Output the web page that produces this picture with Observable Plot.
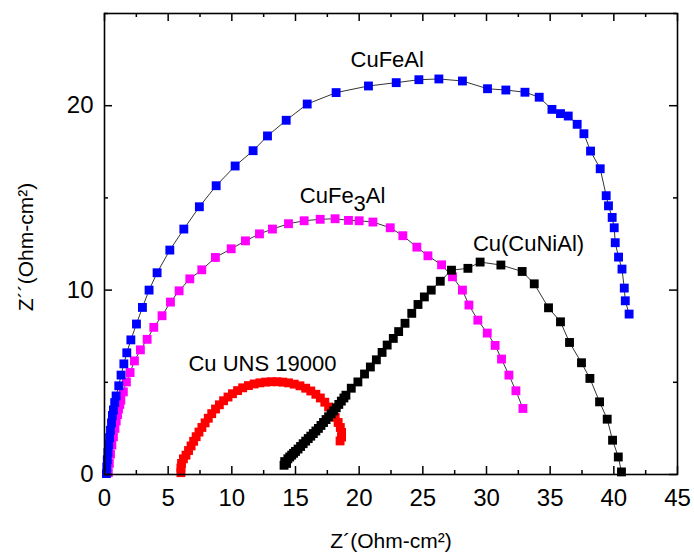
<!DOCTYPE html>
<html><head><meta charset="utf-8">
<script src="https://cdn.jsdelivr.net/npm/d3@7"></script>
<script src="https://cdn.jsdelivr.net/npm/@observablehq/plot@0.6"></script>
<style>html,body{margin:0;padding:0;background:#fff}svg{display:block}</style>
</head><body><div id="chart"></div>
<script>
// ---- data ----
const seriesNames = ["Cu UNS 19000", "CuFe3Al", "CuFeAl", "Cu(CuNiAl)"];
const seriesColors = ["#ff0000", "#ff00ff", "#0000ff", "#000000"];

const cuFeAlX = [0.15,0.18,0.22,0.27,0.33,0.4,0.47,0.55,0.62,0.7,0.8,0.91,1.12,1.30,1.52,1.75,2.07,2.51,2.98,3.50,4.13,5.13,6.23,7.45,8.77,10.26,11.67,12.80,14.27,15.92,18.19,20.73,22.91,24.69,26.26,28.11,30.08,31.52,33.02,34.14,35.14,35.81,36.42,37.12,37.65,38.17,38.93,39.40,39.58,39.87,40.03,40.11,40.37,40.64,40.82,40.90,41.2];
const cuFeAlY = [0.05,0.4,0.8,1.2,1.6,2.0,2.4,2.8,3.2,3.5,3.9,4.26,4.81,5.39,6.00,6.60,7.30,8.16,9.06,10.00,10.94,12.17,13.31,14.52,15.66,16.73,17.56,18.36,19.21,20.09,20.71,21.07,21.25,21.41,21.45,21.34,20.92,20.85,20.73,20.46,19.80,19.57,19.44,18.99,18.48,17.54,16.58,15.12,14.57,13.94,13.38,12.57,11.79,11.14,10.11,9.42,8.70];

const cuFe3AlX = [0.3,0.38,0.47,0.58,0.7,0.82,0.92,1.02,1.1,1.2,1.28,1.48,1.72,2.01,2.35,2.82,3.35,3.87,4.52,5.18,5.86,6.70,7.64,8.71,9.95,11.07,12.17,13.19,14.45,15.68,16.94,18.11,19.16,20.00,21.08,22.44,23.43,24.53,25.40,26.47,27.33,28.11,28.62,29.32,30.06,30.68,31.18,31.76,32.31,32.86];
const cuFe3AlY = [0.1,0.6,1.1,1.6,2.05,2.5,2.9,3.25,3.55,3.8,4.03,4.48,5.02,5.53,6.16,6.76,7.33,7.98,8.61,9.35,9.96,10.61,11.10,11.77,12.24,12.67,13.05,13.31,13.60,13.76,13.84,13.87,13.78,13.76,13.69,13.38,12.95,12.33,11.86,11.37,10.72,10.00,9.19,8.37,7.67,7.00,6.26,5.39,4.54,3.58];

const cuNiAlX = [14.1,14.15,14.3,14.4,14.55,14.7,14.85,15.0,15.2,15.4,15.6,15.8,16.0,16.2,16.4,16.6,16.8,17.0,17.2,17.4,17.6,17.8,18.0,18.2,18.4,18.6,18.8,18.96,19.38,19.9,20.42,20.88,21.35,21.8,22.2,22.68,23.1,23.6,24.13,24.62,25.12,25.66,26.37,27.25,28.54,29.50,31.13,32.80,33.75,34.87,35.81,36.52,37.46,38.12,38.88,39.48,39.90,40.35,40.6];
const cuNiAlY = [0.5,0.7,0.6,0.85,0.95,1.05,1.15,1.25,1.38,1.52,1.67,1.81,1.95,2.08,2.22,2.36,2.5,2.66,2.82,2.98,3.13,3.29,3.45,3.62,3.8,3.98,4.15,4.3,4.68,5.02,5.45,5.83,6.22,6.62,7.02,7.38,7.75,8.2,8.74,9.22,9.63,10.0,10.48,11.08,11.18,11.52,11.36,11.01,10.34,9.04,8.28,7.16,6.06,5.21,3.94,3.0,1.86,0.95,0.14];

const cuUnsX = [6.0,6.0,6.05,6.2,6.4,6.6,6.8,7.0,7.2,7.42,7.65,7.9,8.15,8.42,8.72,9.02,9.35,9.7,10.05,10.45,10.85,11.3,11.75,12.2,12.65,13.1,13.55,14.0,14.45,14.9,15.35,15.8,16.2,16.6,16.95,17.3,17.6,17.88,18.12,18.35,18.52,18.62,18.62,18.5];
const cuUnsY = [0.1,0.35,0.6,0.85,1.05,1.3,1.55,1.8,2.05,2.3,2.55,2.8,3.05,3.3,3.55,3.78,4.0,4.2,4.38,4.55,4.7,4.82,4.91,4.97,5.01,5.03,5.03,5.01,4.97,4.9,4.81,4.68,4.53,4.35,4.15,3.92,3.66,3.38,3.1,2.82,2.55,2.28,2.03,1.82];

const xMajorTicks = [0,5,10,15,20,25,30,35,40,45];
const xMinorTicks = [2.5,7.5,12.5,17.5,22.5,27.5,32.5,37.5,42.5];
const yMajorTicks = [0,10,20];
const yMinorTicks = [5,15,25];

const annotationText = ["CuFeAl", "CuFe3Al", "Cu(CuNiAl)", "Cu UNS 19000"];
const annotationX = [22.2, 18.7, 33.3, 12.4];
const annotationY = [22.5, 15.1, 12.5, 6.0];

const xTitle = "Z\u00b4(Ohm-cm\u00b2)";
const yTitle = "Z\u00b4\u00b4(Ohm-cm\u00b2)";

// ---- build rows ----
const seriesXs = [cuUnsX, cuFe3AlX, cuFeAlX, cuNiAlX];
const seriesYs = [cuUnsY, cuFe3AlY, cuFeAlY, cuNiAlY];
const rows = [];
seriesNames.forEach((name, i) => {
  seriesXs[i].forEach((x, j) => rows.push({series: name, x, y: seriesYs[i][j], color: seriesColors[i]}));
});
const labels = annotationText.map((t, i) => ({text: t, x: annotationX[i], y: annotationY[i]}));

const font = "'Liberation Sans', Arial, Helvetica, sans-serif";
const H = 553, mT = 13, mB = 79, mL = 104, mR = 17, W = 694;
const frameH = H - mT - mB, frameW = W - mL - mR;

const chart = Plot.plot({
  width: W, height: H,
  marginLeft: mL, marginRight: mR, marginTop: mT, marginBottom: mB,
  x: {domain: [0, 45], label: null},
  y: {domain: [0, 25], label: null},
  style: {fontFamily: font, background: "white", color: "black", overflow: "visible"},
  marks: [
    Plot.line(rows, {x: "x", y: "y", z: "series", stroke: "black", strokeWidth: 0.8}),
    ...seriesNames.map(name => Plot.dot(rows.filter(r => r.series === name), {x: "x", y: "y", fill: "color", symbol: "square", r: 5, stroke: "none"})),
    // ticks (inward) on all four sides
    Plot.tickX(xMajorTicks, {x: d => d, insetTop: frameH - 8, stroke: "black", strokeWidth: 1.5}),
    Plot.tickX(xMinorTicks, {x: d => d, insetTop: frameH - 4, stroke: "black", strokeWidth: 1.5}),
    Plot.tickX(xMajorTicks, {x: d => d, insetBottom: frameH - 8, stroke: "black", strokeWidth: 1.5}),
    Plot.tickX(xMinorTicks, {x: d => d, insetBottom: frameH - 4, stroke: "black", strokeWidth: 1.5}),
    Plot.tickY(yMajorTicks, {y: d => d, insetRight: frameW - 8, stroke: "black", strokeWidth: 1.5}),
    Plot.tickY(yMinorTicks, {y: d => d, insetRight: frameW - 4, stroke: "black", strokeWidth: 1.5}),
    Plot.tickY(yMajorTicks, {y: d => d, insetLeft: frameW - 8, stroke: "black", strokeWidth: 1.5}),
    Plot.tickY(yMinorTicks, {y: d => d, insetLeft: frameW - 4, stroke: "black", strokeWidth: 1.5}),
    Plot.frame({stroke: "black", strokeWidth: 1.6}),
    Plot.axisX(xMajorTicks, {anchor: "bottom", tickSize: 0, tickPadding: 14, fontSize: 24, label: null}),
    Plot.axisY(yMajorTicks, {anchor: "left", tickSize: 0, tickPadding: 11, fontSize: 24, label: null}),
    Plot.text([xTitle], {frameAnchor: "bottom", dy: 67, fontSize: 21, textAnchor: "middle", lineAnchor: "middle", fill: "black"}),
    Plot.text([yTitle], {frameAnchor: "left", dx: -78, dy: 3, rotate: -90, fontSize: 21, textAnchor: "middle", lineAnchor: "middle", fill: "black"}),
    Plot.text(labels, {x: "x", y: "y", text: "text", textAnchor: "middle", fontSize: 22, lineAnchor: "middle", fill: "black"})
  ]
});

// subscript "3" in CuFe3Al
const ns = "http://www.w3.org/2000/svg";
chart.querySelectorAll("text").forEach(t => {
  if (t.textContent === "CuFe3Al") {
    t.textContent = "CuFe";
    const s = document.createElementNS(ns, "tspan");
    s.setAttribute("dy", "0.35em"); s.textContent = "3";
    const a = document.createElementNS(ns, "tspan");
    a.setAttribute("dy", "-0.35em"); a.textContent = "Al";
    t.append(s, a);
  }
});
document.getElementById("chart").append(chart);
</script>
</body></html>
